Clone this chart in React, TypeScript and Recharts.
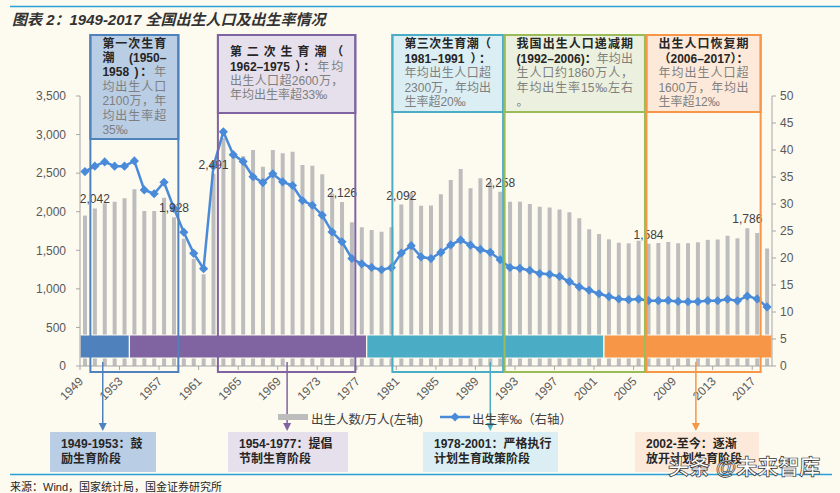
import React from 'react';
import { ComposedChart, Bar, Line, XAxis, YAxis, ReferenceArea, LabelList } from 'recharts';

// categories: one per year
const years = [
  '1949', '1950', '1951', '1952', '1953', '1954', '1955', '1956', '1957', '1958',
  '1959', '1960', '1961', '1962', '1963', '1964', '1965', '1966', '1967', '1968',
  '1969', '1970', '1971', '1972', '1973', '1974', '1975', '1976', '1977', '1978',
  '1979', '1980', '1981', '1982', '1983', '1984', '1985', '1986', '1987', '1988',
  '1989', '1990', '1991', '1992', '1993', '1994', '1995', '1996', '1997', '1998',
  '1999', '2000', '2001', '2002', '2003', '2004', '2005', '2006', '2007', '2008',
  '2009', '2010', '2011', '2012', '2013', '2014', '2015', '2016', '2017', '2018',
];

// 出生人数/万人 (left axis)
const births = [
  1950, 2042, 2109, 2130, 2173, 2290, 2009, 2009, 2182, 1928,
  1650, 1389, 1189, 2491, 2954, 2760, 2720, 2800, 2584, 2800,
  2757, 2778, 2606, 2597, 2485, 2235, 2126, 1863, 1798, 1763,
  1741, 1798, 2092, 2240, 2078, 2080, 2225, 2411, 2554, 2303,
  2433, 2380, 2258, 2130, 2130, 2100, 2065, 2056, 2030, 1992,
  1914, 1772, 1711, 1642, 1598, 1590, 1624, 1584, 1594, 1608,
  1591, 1592, 1604, 1635, 1640, 1687, 1655, 1786, 1723, 1523,
];

// 出生率‰ (right axis)
const birthRate = [
  36.0, 37.0, 37.8, 37.0, 37.0, 37.97, 32.6, 31.9, 34.03, 29.22,
  24.78, 20.86, 18.02, 37.01, 43.37, 39.14, 37.88, 35.05, 33.96, 35.59,
  34.11, 33.43, 30.65, 29.77, 27.93, 24.82, 23.01, 19.91, 18.93, 18.25,
  17.82, 18.21, 20.91, 22.28, 20.19, 19.9, 21.04, 22.43, 23.33, 22.37,
  21.58, 21.06, 19.68, 18.24, 18.09, 17.7, 17.12, 16.98, 16.57, 15.64,
  14.64, 14.03, 13.38, 12.86, 12.41, 12.29, 12.4, 12.09, 12.1, 12.14,
  11.95, 11.9, 11.93, 12.1, 12.08, 12.37, 12.07, 12.95, 12.43, 10.94,
];

const labeledYears = ['1950', '1958', '1962', '1975', '1981', '1991', '2006', '2016'];
const xTickYears = ['1949', '1953', '1957', '1961', '1965', '1969', '1973', '1977', '1981', '1985', '1989', '1993', '1997', '2001', '2005', '2009', '2013', '2017'];
const leftTicks = [0, 500, 1000, 1500, 2000, 2500, 3000, 3500];
const rightTicks = [0, 5, 10, 15, 20, 25, 30, 35, 40, 45, 50];

// policy phases drawn as the coloured strip near the axis
const phaseNames = ['鼓励生育', '提倡节制生育', '严格执行计划生育', '逐渐放开'];
const phaseFrom = ['1949', '1954', '1978', '2002'];
const phaseTo = ['1953', '1977', '2001', '2018'];

const data = years.map((y, i) => ({
  year: y,
  births: births[i],
  rate: birthRate[i],
  label: labeledYears.includes(y) ? births[i] : null,
}));

const BG = '#FDFAF0';
const BLUE = '#4F81BD';
const PURPLE = '#8064A2';
const TEAL = '#4BACC6';
const GREEN = '#9BBB59';
const ORANGE = '#F79646';
const LINE_BLUE = '#4A8BD9';
const phaseColors = [BLUE, PURPLE, TEAL, ORANGE];

const PLOT_LEFT = 80;
const PLOT_RIGHT = 772;
const BAND = (PLOT_RIGHT - PLOT_LEFT) / years.length;
const edgeX = (v: number) => PLOT_LEFT + (v - Number(years[0])) * BAND;

type Part = [string, string];
const callouts: { span: [number, number]; headerBottom: number; stroke: string; fill: string; lines: Part[] }[] = [
  {
    span: [1950.05, 1958.95], headerBottom: 139, stroke: BLUE, fill: '#B9CDE5',
    lines: [['第一次生育', ''], ['潮　(1950–', ''], ['1958 )：', '年'], ['', '均出生人口'], ['', '2100万，年'], ['', '均出生率超'], ['', '35‰']],
  },
  {
    span: [1962.95, 1976.85], headerBottom: 113, stroke: PURPLE, fill: '#E6E0EC',
    lines: [['第 二 次 生 育 潮 （', ''], ['1962–1975 ）：', '年均'], ['', '出生人口超2600万，'], ['', '年均出生率超33‰']],
  },
  {
    span: [1980.6, 1991.8], headerBottom: 112, stroke: TEAL, fill: '#DAEEF3',
    lines: [['第三次生育潮（', ''], ['1981–1991 ）：', ''], ['', '年均出生人口超'], ['', '2300万，年均出'], ['', '生率超20‰']],
  },
  {
    span: [1991.95, 2006.15], headerBottom: 112, stroke: GREEN, fill: '#EBF1DE',
    lines: [['我国出生人口递减期', ''], ['(1992–2006)：', '年均出'], ['', '生人口约1860万人，'], ['', '年均出生率15‰左右'], ['', '。']],
  },
  {
    span: [2006.3, 2017.85], headerBottom: 112, stroke: ORANGE, fill: '#FDE9D9',
    lines: [['出生人口恢复期', ''], ['（2006–2017）：', ''], ['', '年均出生人口超'], ['', '1600万，年均出'], ['', '生率超12‰']],
  },
];

const arrows = [
  { at: 1951.3, color: BLUE },
  { at: 1969.95, color: PURPLE },
  { at: 1990.5, color: TEAL },
  { at: 2011.3, color: ORANGE },
];

const stageBoxes = [
  { left: 50, width: 106, fill: '#B9CDE5', lines: ['1949-1953：鼓', '励生育阶段'] },
  { left: 228, width: 120, fill: '#E6E0EC', lines: ['1954-1977：提倡', '节制生育阶段'] },
  { left: 423, width: 135, fill: '#DAEEF3', lines: ['1978-2001：严格执行', '计划生育政策阶段'] },
  { left: 635, width: 124, fill: '#FDE9D9', lines: ['2002-至今：逐渐', '放开计划生育阶段'] },
];

const CJK = "'Liberation Sans', 'Noto Sans CJK SC', sans-serif";

const Diamond = (props: any) => {
  const { cx, cy } = props;
  if (cx == null || cy == null) return null;
  const r = 4.6;
  return <path d={`M${cx},${cy - r}L${cx + r},${cy}L${cx},${cy + r}L${cx - r},${cy}Z`} fill={LINE_BLUE} />;
};

const BarValue = (props: any) => {
  const { x, y, width, value } = props;
  if (value == null) return null;
  return (
    <text x={Number(x) + Number(width) / 2} y={Number(y) - 5} textAnchor="middle" fontSize={12} fill="#404040">
      {Number(value).toLocaleString('en-US')}
    </text>
  );
};

const YearTick = (props: any) => {
  const { x, y, payload } = props;
  const axisY = y - 6;
  const tx = x - 1;
  const ty = y + 10;
  return (
    <g>
      <line x1={x - BAND / 2} x2={x - BAND / 2} y1={axisY} y2={axisY + 4} stroke="#A6A6A6" />
      <text x={tx} y={ty} textAnchor="end" fontSize={12} fill="#595959" transform={`rotate(-45, ${tx}, ${ty})`}>
        {payload.value}
      </text>
    </g>
  );
};

const App: React.FC = () => {
  return (
    <div style={{ position: 'absolute', left: 0, top: 0, width: 840, height: 493, background: BG, overflow: 'hidden', fontFamily: CJK }}>
      {/* title */}
      <div style={{ position: 'absolute', left: 12, top: 8, fontSize: 15, fontWeight: 700, fontStyle: 'italic', color: '#333', whiteSpace: 'nowrap' }}>
        图表 2：1949-2017 全国出生人口及出生率情况
      </div>

      <div style={{ position: 'absolute', left: 0, top: 0 }}>
        <ComposedChart width={840} height={493} data={data} margin={{ top: 96, right: 28, bottom: 87, left: 30 }} style={{ fontFamily: CJK }}>
          <XAxis
            dataKey="year"
            ticks={xTickYears}
            interval={0}
            height={40}
            tickSize={4}
            tickLine={false}
            tick={<YearTick />}
            axisLine={{ stroke: '#A6A6A6' }}
          />
          <YAxis
            yAxisId="left"
            width={50}
            domain={[0, 3500]}
            ticks={leftTicks}
            tickFormatter={(v: number) => v.toLocaleString('en-US')}
            tick={{ fontSize: 12, fill: '#595959' }}
            tickSize={4}
            tickMargin={10}
            axisLine={{ stroke: '#A6A6A6' }}
            tickLine={{ stroke: '#A6A6A6' }}
          />
          <YAxis
            yAxisId="right"
            orientation="right"
            width={40}
            domain={[0, 50]}
            ticks={rightTicks}
            tick={{ fontSize: 12, fill: '#595959' }}
            tickSize={4}
            tickMargin={4}
            axisLine={{ stroke: '#A6A6A6' }}
            tickLine={{ stroke: '#A6A6A6' }}
          />
          <Bar yAxisId="left" dataKey="births" fill="#BDBDBD" barSize={4} isAnimationActive={false}>
            <LabelList dataKey="label" content={<BarValue />} />
          </Bar>
          {phaseNames.map((n, i) => (
            <ReferenceArea
              key={n}
              yAxisId="left"
              x1={phaseFrom[i]}
              x2={phaseTo[i]}
              y1={104}
              y2={402}
              fill={phaseColors[i]}
              fillOpacity={1}
              stroke={BG}
              strokeWidth={1.2}
              zIndex={350}
            />
          ))}
          <Line
            yAxisId="right"
            dataKey="rate"
            stroke={LINE_BLUE}
            strokeWidth={2.5}
            dot={<Diamond />}
            activeDot={false}
            isAnimationActive={false}
          />
        </ComposedChart>
      </div>

      {/* callout boxes, arrows and rules */}
      <svg width={840} height={493} style={{ position: 'absolute', left: 0, top: 0, pointerEvents: 'none' }}>
        <line x1={10} x2={840} y1={6.5} y2={6.5} stroke="#2A9FD8" strokeWidth={1.5} />
        <line x1={10} x2={832} y1={474.5} y2={474.5} stroke="#2A9FD8" strokeWidth={1.5} />
        {callouts.map((c, i) => {
          const x1 = edgeX(c.span[0]);
          const x2 = edgeX(c.span[1]);
          return (
            <g key={i}>
              <rect x={x1} y={35} width={x2 - x1} height={c.headerBottom - 35} fill={c.fill} stroke={c.stroke} strokeWidth={2} />
              <rect x={x1} y={35} width={x2 - x1} height={372 - 35} fill="none" stroke={c.stroke} strokeWidth={2} />
            </g>
          );
        })}
        {arrows.map((a, i) => {
          const x = edgeX(a.at);
          return (
            <g key={i}>
              <line x1={x} x2={x} y1={362} y2={424} stroke={a.color} strokeWidth={1.5} />
              <path d={`M${x - 4},${423}L${x + 4},${423}L${x},${431}Z`} fill={a.color} />
            </g>
          );
        })}
        {/* legend swatches */}
        <rect x={278} y={414} width={30} height={6} fill="#BDBDBD" />
        <line x1={440} x2={470} y1={417} y2={417} stroke={LINE_BLUE} strokeWidth={2.5} />
        <path d="M455,412.5L459.5,417L455,421.5L450.5,417Z" fill={LINE_BLUE} />
      </svg>

      {callouts.map((c, i) => {
        const x1 = edgeX(c.span[0]);
        const x2 = edgeX(c.span[1]);
        return (
          <div
            key={i}
            style={{
              position: 'absolute', left: x1 + 12, top: 36, width: x2 - x1 - 24, height: c.headerBottom - 37,
              display: 'flex', flexDirection: 'column', justifyContent: 'center', fontSize: 12, lineHeight: '14.4px',
            }}
          >
            {c.lines.map((l, j) => (
              <div key={j} style={{ textAlign: 'justify', textAlignLast: j < c.lines.length - 1 ? 'justify' : 'left', whiteSpace: 'nowrap' }}>
                <span style={{ color: '#262626', fontWeight: 700 }}>{l[0]}</span>
                <span style={{ color: '#7F7F7F' }}>{l[1]}</span>
              </div>
            ))}
          </div>
        );
      })}

      {/* legend text */}
      <div style={{ position: 'absolute', left: 311, top: 409, fontSize: 12.5, color: '#404040', whiteSpace: 'nowrap' }}>出生人数/万人(左轴)</div>
      <div style={{ position: 'absolute', left: 472, top: 409, fontSize: 12.5, color: '#404040', whiteSpace: 'nowrap' }}>出生率‰（右轴）</div>

      {stageBoxes.map((b, i) => (
        <div
          key={i}
          style={{
            position: 'absolute', left: b.left, top: 432, width: b.width, height: 40, background: b.fill,
            boxSizing: 'border-box', paddingLeft: 11, paddingTop: 5, fontSize: 12, lineHeight: '15px',
            fontWeight: 700, color: '#262626', whiteSpace: 'nowrap',
          }}
        >
          {b.lines.map((l, j) => <div key={j}>{l}</div>)}
        </div>
      ))}

      <div style={{ position: 'absolute', left: 10, top: 478, fontSize: 11, color: '#262626', whiteSpace: 'nowrap' }}>
        来源：Wind，国家统计局，国金证券研究所
      </div>

      <div
        style={{
          position: 'absolute', left: 668, top: 450, fontSize: 21, color: '#FFFFFF', whiteSpace: 'nowrap',
          WebkitTextStroke: '0.7px #333333', fontWeight: 700,
        }}
      >
        头条 @未来智库
      </div>
    </div>
  );
};

export default App;
